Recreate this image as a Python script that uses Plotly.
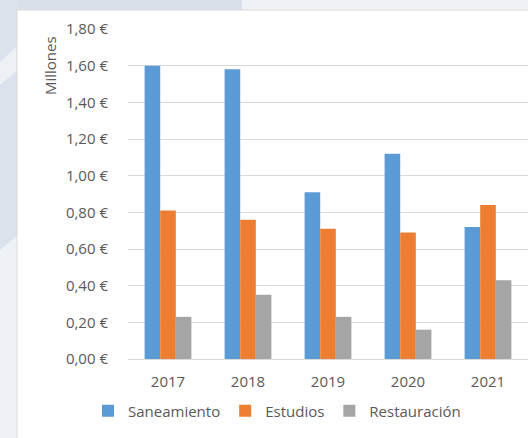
import plotly.graph_objects as go

years = ["2017", "2018", "2019", "2020", "2021"]
saneamiento = [1.60, 1.58, 0.91, 1.12, 0.72]
estudios = [0.81, 0.76, 0.71, 0.69, 0.84]
restauracion = [0.23, 0.35, 0.23, 0.16, 0.43]
series_names = ["Saneamiento", "Estudios", "Restauración"]
series_colors = ["#5B9BD5", "#ED7D31", "#A5A5A5"]
y_tickvals = [0.0, 0.2, 0.4, 0.6, 0.8, 1.0, 1.2, 1.4, 1.6, 1.8]
y_ticktext = ["0,00 €", "0,20 €", "0,40 €", "0,60 €", "0,80 €",
              "1,00 €", "1,20 €", "1,40 €", "1,60 €", "1,80 €"]
y_title = "Millones"

W, H = 528, 438
L, R, T, B = 128, 0, 29, 79
PW, PH = W - L - R, H - T - B


def px(x):
    return (x - L) / PW


def py(y):
    return (H - B - y) / PH


FONT = "Open Sans"
TXT = "#595959"
FS = 15

fig = go.Figure()
for name, vals, col in zip(series_names, [saneamiento, estudios, restauracion], series_colors):
    fig.add_trace(go.Bar(x=years, y=vals, name=name, marker=dict(color=col, line=dict(width=0))))

shapes = [
    # bluish background regions
    dict(type="rect", xref="paper", yref="paper", x0=px(0), x1=px(242), y0=py(11), y1=py(0),
         fillcolor="#d9e0ea", line=dict(width=0), layer="below"),
    dict(type="path", xref="paper", yref="paper",
         path=f"M {px(0)},{py(0)} L {px(18)},{py(0)} L {px(18)},{py(235)} L {px(0)},{py(250)} Z",
         fillcolor="#dce2ec", line=dict(width=0), layer="below"),
    dict(type="path", xref="paper", yref="paper",
         path=f"M {px(0)},{py(62)} L {px(18)},{py(45)} L {px(18)},{py(70)} L {px(0)},{py(85)} Z",
         fillcolor="#edf0f5", line=dict(width=0), layer="below"),
    # white chart area
    dict(type="rect", xref="paper", yref="paper", x0=px(17), x1=px(540), y0=py(450), y1=py(10),
         fillcolor="#ffffff", line=dict(color="#d9d9d9", width=1), layer="below"),
]

fig.update_layout(
    width=W, height=H,
    margin=dict(l=L, r=R, t=T, b=B, pad=0),
    paper_bgcolor="#eef1f5",
    plot_bgcolor="rgba(0,0,0,0)",
    barmode="group",
    bargap=0.415,
    bargroupgap=0,
    font=dict(family=FONT, size=FS, color=TXT),
    shapes=shapes,
    showlegend=True,
    legend=dict(orientation="h", x=px(88), xanchor="left", y=py(411), yanchor="middle",
                font=dict(family=FONT, size=FS, color=TXT), bgcolor="rgba(0,0,0,0)",
                itemwidth=30, tracegroupgap=0),
    annotations=[dict(text=y_title, xref="paper", yref="paper", x=px(50), y=py(66),
                      textangle=-90, showarrow=False, xanchor="center", yanchor="middle",
                      font=dict(family=FONT, size=FS, color=TXT))],
)
fig.update_xaxes(type="category", range=[-0.5, 4.5], showline=True, linecolor="#d9d9d9",
                 linewidth=1, ticks="outside", ticklen=9, tickcolor="rgba(0,0,0,0)",
                 tickfont=dict(family=FONT, size=FS, color=TXT), showgrid=False, fixedrange=True)
fig.update_yaxes(range=[0, 1.8], tickvals=y_tickvals, ticktext=y_ticktext, showgrid=True,
                 gridcolor="#d9d9d9", gridwidth=1, zeroline=False, ticks="outside", ticklen=16,
                 tickcolor="rgba(0,0,0,0)", tickfont=dict(family=FONT, size=FS, color=TXT),
                 fixedrange=True)

fig.write_html("out.html", config={"displayModeBar": False},
               post_script="document.body.style.margin='0';document.body.style.overflow='hidden';")
